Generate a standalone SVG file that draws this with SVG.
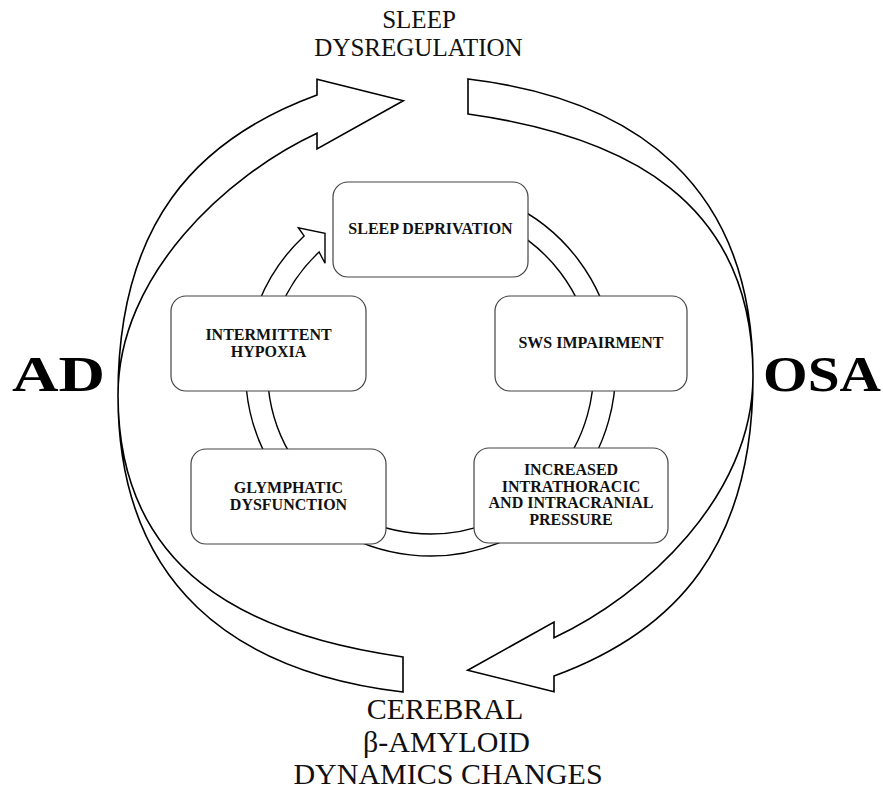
<svg xmlns="http://www.w3.org/2000/svg" width="883" height="789" viewBox="0 0 883 789">
<style>
.big{fill:#fff;stroke:#000;stroke-width:1.6;stroke-linejoin:miter}
.ring{fill:#fff;stroke:#000;stroke-width:1.4}
.box{fill:#fff;stroke:#444;stroke-width:1.2}
.bt{font-family:"Liberation Serif","Times New Roman",serif;font-weight:bold;font-size:16px;fill:#111;text-anchor:middle}
.lbl{font-family:"Liberation Serif","Times New Roman",serif;fill:#111;text-anchor:middle}
.side{font-family:"Liberation Serif","Times New Roman",serif;font-weight:bold;font-size:50px;fill:#000}
</style>
<rect width="883" height="789" fill="#fff"/>
<g id="connectors">
  <path id="arrow-left" class="big" d="M403,692 C234.2,671.9 118,585 118,395 C118,225 194.9,139.7 317,95 L317,79.3 L403.3,100.7 L317,149 L317,133.3 C226.3,175.5 118,275 118,395 C118,570 244.6,634.6 403,657 Z"/>
  <path id="arrow-right" class="big" transform="rotate(180 435.5 385.5)" d="M403,692 C234.2,671.9 118,585 118,395 C118,225 194.9,139.7 317,95 L317,79.3 L403.3,100.7 L317,149 L317,133.3 C226.3,175.5 118,275 118,395 C118,570 244.6,634.6 403,657 Z"/>
  <path id="inner-ring" class="ring" d="M430.5,186 A185,185 0 1 1 304.1,235.9 L298.3,227.7 L325,233.3 L325,263.3 L319.1,252 A163,163 0 1 0 430.5,208 Z"/>
</g>
<g id="node-sleep-deprivation">
  <rect class="box" x="333" y="182" width="195" height="95" rx="15"/>
  <text class="bt" x="430.5" y="234">SLEEP DEPRIVATION</text>
</g>
<g id="node-intermittent-hypoxia">
  <rect class="box" x="171" y="296" width="195" height="95" rx="15"/>
  <text class="bt" x="268.5" y="340">INTERMITTENT</text>
  <text class="bt" x="268.5" y="356.7">HYPOXIA</text>
</g>
<g id="node-sws-impairment">
  <rect class="box" x="495" y="296" width="192" height="95" rx="15"/>
  <text class="bt" x="591" y="348.3">SWS IMPAIRMENT</text>
</g>
<g id="node-glymphatic-dysfunction">
  <rect class="box" x="191" y="449" width="195" height="95" rx="15"/>
  <text class="bt" x="288.5" y="493.3">GLYMPHATIC</text>
  <text class="bt" x="288.5" y="510">DYSFUNCTION</text>
</g>
<g id="node-increased-pressure">
  <rect class="box" x="474" y="448" width="194" height="95" rx="15"/>
  <text class="bt" x="571" y="475">INCREASED</text>
  <text class="bt" x="571" y="491.7">INTRATHORACIC</text>
  <text class="bt" x="571" y="508.3">AND INTRACRANIAL</text>
  <text class="bt" x="571" y="525">PRESSURE</text>
</g>
<g id="node-sleep-dysregulation">
  <text class="lbl" x="419" y="27.5" font-size="25">SLEEP</text>
  <text class="lbl" x="418.5" y="55.5" font-size="25">DYSREGULATION</text>
</g>
<g id="node-amyloid">
  <text class="lbl" x="445" y="718.5" font-size="30">CEREBRAL</text>
  <text class="lbl" x="446.5" y="751.5" font-size="30">β-AMYLOID</text>
  <text class="lbl" x="448" y="784" font-size="30">DYNAMICS CHANGES</text>
</g>
<g id="node-ad">
  <text class="side" x="12" y="391" textLength="93" lengthAdjust="spacingAndGlyphs">AD</text>
</g>
<g id="node-osa">
  <text class="side" x="763" y="391" textLength="118" lengthAdjust="spacingAndGlyphs">OSA</text>
</g>
</svg>
